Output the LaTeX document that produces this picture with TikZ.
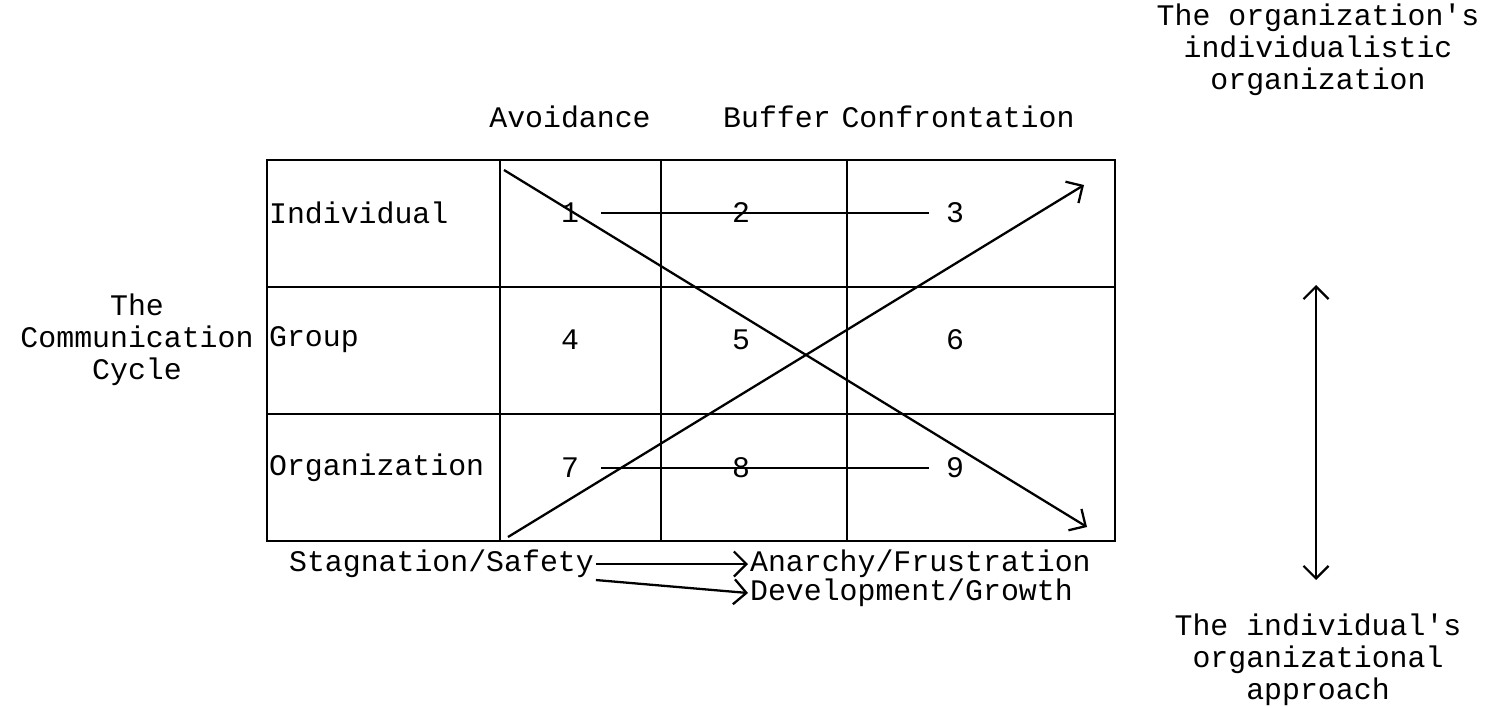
\documentclass[tikz,border=0pt]{standalone}
\usepackage{fontspec}
\setmonofont{Liberation Mono}
\usetikzlibrary{arrows.meta,positioning}
\begin{document}
\begin{tikzpicture}[x=0.02cm,y=-0.02cm,
lab/.style={font=\ttfamily\fontsize{17}{18.3}\selectfont,inner sep=1pt,align=center},
grid/.style={line width=1.4pt},
arr/.style={-{Straight Barb[length=2.5mm,width=5mm]},line width=1.3pt},
link/.style={line width=1.3pt,shorten <=4mm,shorten >=3mm}]
\useasboundingbox (0,0) rectangle (1502,707);
% the grid
\draw[grid] (267,160) rectangle (1115,541);
\foreach \x in {500,661,847} \draw[grid] (\x,160) -- (\x,541);
\foreach \y in {287,414} \draw[grid] (267,\y) -- (1115,\y);
% column and row labels
\node[lab] (avoid) at (570,117) {Avoidance};
\node[lab] (buffer) at (777,117) {Buffer};
\node[lab] (confront) at (958,117) {Confrontation};
\node[lab,anchor=west] (indiv) at (267,213) {Individual};
\node[lab,anchor=west] (group) at (267,340) {Group};
\node[lab,anchor=west] (organ) at (267,468) {Organization};
\node[lab] (cycle) at (137,340) {The\\Communication\\Cycle};
% cell numbers
\node[lab] (n1) at (570,213) {1};
\node[lab] (n2) at (741,213) {2};
\node[lab] (n3) at (955,213) {3};
\node[lab] (n4) at (570,340) {4};
\node[lab] (n5) at (741,340) {5};
\node[lab] (n6) at (955,340) {6};
\node[lab] (n7) at (570,468) {7};
\node[lab] (n8) at (741,468) {8};
\node[lab] (n9) at (955,468) {9};
\draw[link] (n1.east) -- (n3.west);
\draw[link] (n7.east) -- (n9.west);
% diagonals
\coordinate (d1s) at (504,170);
\coordinate (d1e) at (1087,527);
\coordinate (d2s) at (508,537);
\coordinate (d2e) at (1084,185);
\draw[arr] (d1s) -- (d1e);
\draw[arr] (d2s) -- (d2e);
% outcomes below
\node[lab,anchor=west] (stag) at (287,564) {Stagnation/Safety};
\node[lab,anchor=west] (anar) at (748,564) {Anarchy/Frustration};
\node[lab,anchor=west] (devel) at (748,593) {Development/Growth};
\draw[arr] (stag.east) -- (anar.west);
\draw[arr] (stag.south east) -- (devel.west);
% right-hand scale
\node[lab] (orgind) at (1318,50) {The organization's\\individualistic\\organization};
\node[lab] (indorg) at (1318,660) {The individual's\\organizational\\approach};
\coordinate (up) at (1316,285);
\coordinate (dn) at (1316,580);
\draw[arr,{Straight Barb[length=2.5mm,width=5mm]}-{Straight Barb[length=2.5mm,width=5mm]}] (dn) -- (up);
\end{tikzpicture}
\end{document}
